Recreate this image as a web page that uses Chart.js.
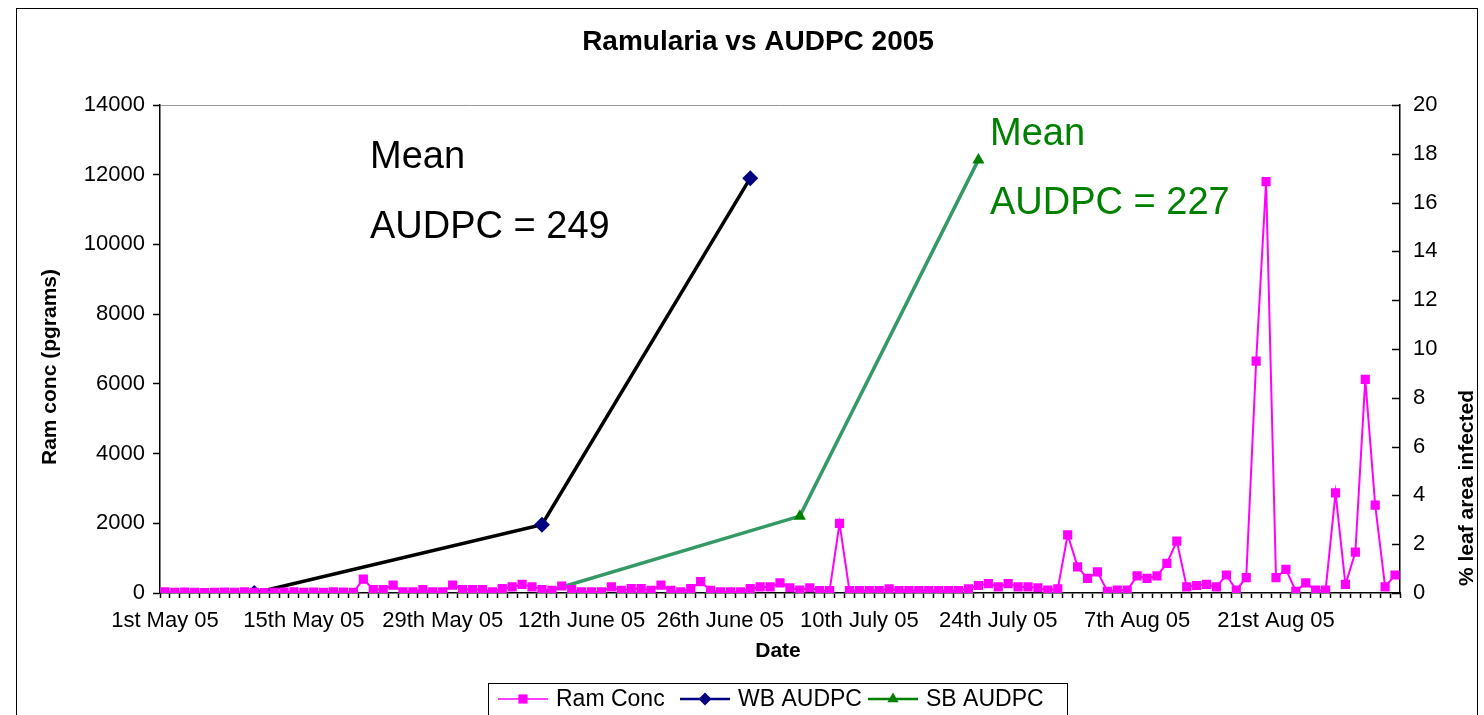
<!DOCTYPE html>
<html>
<head>
<meta charset="utf-8">
<script src="https://cdn.jsdelivr.net/npm/chart.js@4.4.1/dist/chart.umd.min.js"></script>
<style>
  html, body { margin: 0; padding: 0; background: #fff; overflow: hidden; }
  #wrap { position: relative; width: 1484px; height: 715px; }
</style>
</head>
<body>
<div id="wrap"><canvas id="chart" width="1484" height="715"></canvas></div>
<script>
'use strict';
const FONT = "'Liberation Sans', Arial, sans-serif";

// x tick labels, one every 14 days starting 1st May
const tickLabels = ['1st May 05', '15th May 05', '29th May 05', '12th June 05', '26th June 05',
    '10th July 05', '24th July 05', '7th Aug 05', '21st Aug 05'];

// Ram conc (pgrams), one value per day from 1st May
const ramConc = [
    30, 20, 25, 20, 15, 20, 25, 20, 30, 20, 15, 20, 25, 30, 20, 25, 20, 30, 25, 20,
    400, 100, 100, 225, 30, 30, 100, 30, 30, 225,
    100, 100, 100, 30, 125, 175, 250, 175, 100, 75,
    200, 100, 30, 30, 30, 175, 75, 125, 125, 75,
    225, 75, 30, 125, 325, 75, 30, 30, 30, 125,
    175, 175, 290, 150, 80, 150, 70, 70, 2000, 70,
    70, 70, 70, 120, 70, 70, 70, 70, 70, 70,
    70, 120, 215, 270, 175, 270, 175, 175, 150, 80,
    120, 1670, 750, 420, 605, 50, 80, 80, 490, 420,
    490, 850, 1490, 175, 215, 245, 175, 517, 80, 440,
    6650, 11800, 440, 680, 50, 290, 80, 80, 2870, 245,
    1170, 6130, 2520, 175, 517
];

// AUDPC (% leaf area infected), day index from 1st May
const wbDays = [9, 38, 59];
const wbAudpc = [0, 2.8, 17.0];
const sbDays = [38, 64, 82];
const sbAudpc = [0, 3.15, 17.75];

const categories = ramConc.map((_, i) => i);

function sparse(days, values) {
    const out = categories.map(() => null);
    days.forEach((d, k) => { out[d] = values[k]; });
    return out;
}

// outer frame, title, right axis inward ticks, axis titles, annotations, legend
const decorations = {
    id: 'decorations',
    afterDraw(chart) {
        const ctx = chart.ctx;
        const area = chart.chartArea;
        ctx.save();

        ctx.strokeStyle = '#000';
        ctx.lineWidth = 1;
        ctx.strokeRect(16.5, 8.5, 1461, 800);

        const r = chart.scales.y1;
        ctx.lineWidth = 1.5;
        ctx.beginPath();
        r.ticks.forEach(t => {
            const y = Math.round(r.getPixelForValue(t.value)) + 0.5;
            ctx.moveTo(area.right - 8, y);
            ctx.lineTo(area.right, y);
        });
        ctx.stroke();

        ctx.fillStyle = '#000';
        ctx.textAlign = 'center';
        ctx.textBaseline = 'middle';
        ctx.font = 'bold 28px ' + FONT;
        ctx.fillText('Ramularia vs AUDPC 2005', 758, 42);

        ctx.font = 'bold 21px ' + FONT;
        ctx.fillText('Date', 778, 651);

        ctx.save();
        ctx.translate(50, 367);
        ctx.rotate(-Math.PI / 2);
        ctx.fillText('Ram conc (pgrams)', 0, 0);
        ctx.restore();

        ctx.save();
        ctx.translate(1467, 488);
        ctx.rotate(-Math.PI / 2);
        ctx.fillText('% leaf area infected', 0, 0);
        ctx.restore();

        ctx.font = '38px ' + FONT;
        ctx.textAlign = 'left';
        ctx.fillStyle = '#000';
        ctx.fillText('Mean', 370, 158);
        ctx.fillText('AUDPC = 249', 370, 228);
        ctx.fillStyle = '#008000';
        ctx.fillText('Mean', 990, 135);
        ctx.fillText('AUDPC = 227', 990, 204);

        // legend
        ctx.strokeStyle = '#000';
        ctx.lineWidth = 1;
        ctx.strokeRect(488.5, 683.5, 579, 40);
        const ly = 699;
        const items = [
            { x: 498, text: 'Ram Conc', color: '#FF00FF', style: 'rect', lw: 1.5 },
            { x: 680, text: 'WB AUDPC', color: '#000080', style: 'rectRot', lw: 2.5 },
            { x: 868, text: 'SB AUDPC', color: '#008000', style: 'triangle', lw: 2.5 }
        ];
        ctx.font = '23px ' + FONT;
        items.forEach(it => {
            ctx.strokeStyle = it.color;
            ctx.lineWidth = it.lw;
            ctx.beginPath();
            ctx.moveTo(it.x, ly);
            ctx.lineTo(it.x + 50, ly);
            ctx.stroke();
            ctx.fillStyle = it.color;
            Chart.helpers.drawPoint(ctx, { pointStyle: it.style, radius: 6.5, borderWidth: 0 }, it.x + 25, ly);
            ctx.fillStyle = '#000';
            ctx.fillText(it.text, it.x + 58, ly + 1);
        });

        ctx.restore();
    }
};

const ctx = document.getElementById('chart').getContext('2d');

new Chart(ctx, {
    type: 'line',
    data: {
        labels: categories,
        datasets: [
            {
                label: 'Ram Conc',
                data: ramConc,
                yAxisID: 'y',
                borderColor: '#FF00FF',
                backgroundColor: '#FF00FF',
                borderWidth: 2,
                pointStyle: 'rect',
                pointRadius: 6.5,
                pointBorderWidth: 0,
                tension: 0
            },
            {
                label: 'WB AUDPC',
                data: sparse(wbDays, wbAudpc),
                yAxisID: 'y1',
                borderColor: '#000000',
                borderWidth: 3.5,
                pointStyle: 'rectRot',
                pointRadius: 8,
                pointBackgroundColor: '#000080',
                pointBorderColor: '#000080',
                pointBorderWidth: 0,
                spanGaps: true
            },
            {
                label: 'SB AUDPC',
                data: sparse(sbDays, sbAudpc),
                yAxisID: 'y1',
                borderColor: '#339966',
                borderWidth: 3.5,
                pointStyle: 'triangle',
                pointRadius: 7,
                pointBackgroundColor: '#008000',
                pointBorderColor: '#008000',
                pointBorderWidth: 0,
                spanGaps: true
            }
        ]
    },
    options: {
        responsive: false,
        animation: false,
        layout: { padding: { top: 105, left: 0, right: 0, bottom: 0 } },
        plugins: {
            legend: { display: false },
            tooltip: { enabled: false },
            title: { display: false }
        },
        scales: {
            x: {
                type: 'category',
                offset: true,
                grid: { offset: true, drawOnChartArea: false, tickLength: 5, tickColor: '#000', tickWidth: 1.5 },
                border: { color: '#000', width: 1.5 },
                ticks: {
                    autoSkip: false,
                    maxRotation: 0,
                    minRotation: 0,
                    padding: 10,
                    color: '#000',
                    font: { family: FONT, size: 22 },
                    callback: (v, i) => (i % 14 === 0 ? tickLabels[i / 14] : '')
                },
                afterFit: s => { s.height = 122; }
            },
            y: {
                position: 'left',
                min: 0,
                max: 14000,
                grid: {
                    color: c => (c.tick && c.tick.value === 14000 ? '#999999' : 'rgba(0,0,0,0)'),
                    tickColor: '#000',
                    tickLength: 7,
                    tickWidth: 1.5
                },
                border: { color: '#000', width: 1.5 },
                ticks: { stepSize: 2000, padding: 8, color: '#000', font: { family: FONT, size: 22 }, callback: v => String(v) },
                afterFit: s => { s.width = 160; }
            },
            y1: {
                position: 'right',
                min: 0,
                max: 20,
                grid: { drawOnChartArea: false, drawTicks: false },
                border: { color: '#000', width: 1.5 },
                ticks: { stepSize: 2, padding: 13, color: '#000', font: { family: FONT, size: 22 } },
                afterFit: s => { s.width = 84; }
            }
        }
    },
    plugins: [decorations]
});
</script>
</body>
</html>
